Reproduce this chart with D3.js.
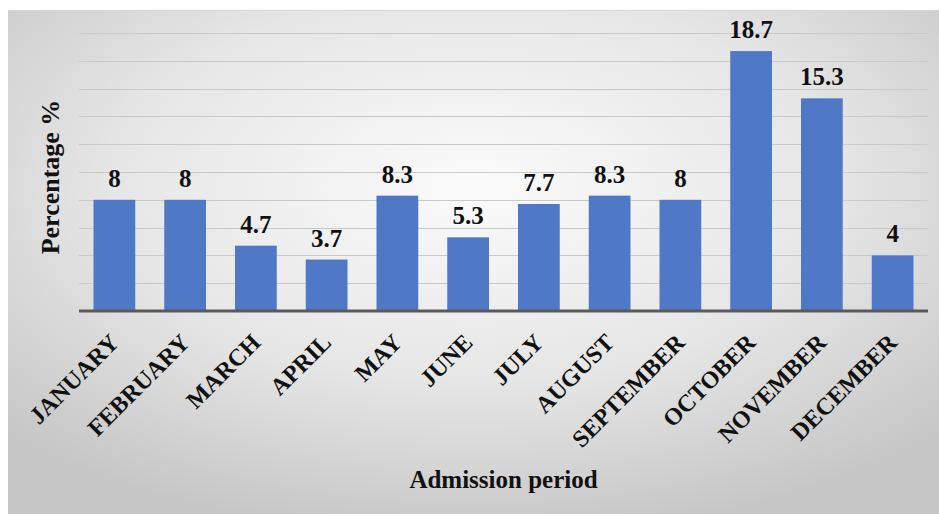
<!DOCTYPE html>
<html>
<head>
<meta charset="utf-8">
<script src="https://cdn.jsdelivr.net/npm/d3@7"></script>
<style>
	html, body { margin: 0; padding: 0; background: #ffffff; }
	svg { display: block; }
</style>
</head>
<body>
<svg id="chart" width="939" height="514"></svg>
<script>
// data
const months = ["JANUARY", "FEBRUARY", "MARCH", "APRIL", "MAY", "JUNE",
	"JULY", "AUGUST", "SEPTEMBER", "OCTOBER", "NOVEMBER", "DECEMBER"];
const percents = [8, 8, 4.7, 3.7, 8.3, 5.3, 7.7, 8.3, 8, 18.7, 15.3, 4];
const gridTicks = [2, 4, 6, 8, 10, 12, 14, 16, 18, 20];

const svg = d3.select('#chart');
const W = 939, H = 514;

// plot box ("top" is taken by window.top)
const plotL = 79, plotR = 928;
const plotT = 33, plotB = 311;

// gray background with lighter middle
const defs = svg.append('defs');
const grad = defs.append('radialGradient')
	.attr('id', 'bg')
	.attr('cx', '50%').attr('cy', '35%')
	.attr('r', '70%');
grad.append('stop').attr('offset', '0%').attr('stop-color', '#fbfbfb');
grad.append('stop').attr('offset', '55%').attr('stop-color', '#e6e6e6');
grad.append('stop').attr('offset', '100%').attr('stop-color', '#c6c6c6');

svg.append('rect')
	.attr('x', 8).attr('y', 10)
	.attr('width', W - 8).attr('height', H - 10)
	.attr('fill', 'url(#bg)');
svg.append('line')
	.attr('x1', 8).attr('x2', W)
	.attr('y1', 10.5).attr('y2', 10.5)
	.attr('stroke', '#d6d6d6');

const x = d3.scaleBand().domain(months).range([plotL, plotR]).paddingInner(0.41).paddingOuter(0.205);
const y = d3.scaleLinear().domain([0, 20]).range([plotB, plotT]);

// gridlines
svg.append('g')
	.selectAll('line')
	.data(gridTicks)
	.join('line')
	.attr('x1', plotL).attr('x2', plotR)
	.attr('y1', d => Math.round(y(d)) + 0.5)
	.attr('y2', d => Math.round(y(d)) + 0.5)
	.attr('stroke', '#c9c9c9')
	.attr('stroke-width', 1);

// bars
svg.append('g')
	.selectAll('rect')
	.data(percents)
	.join('rect')
	.attr('x', (d, i) => x(months[i]))
	.attr('y', d => y(d))
	.attr('width', x.bandwidth())
	.attr('height', d => y(0) - y(d))
	.attr('fill', '#4f79c6');

// baseline
svg.append('line')
	.attr('x1', plotL).attr('x2', plotR)
	.attr('y1', plotB).attr('y2', plotB)
	.attr('stroke', '#5a5a5a')
	.attr('stroke-width', 3);

const serif = '"Liberation Serif", "Times New Roman", serif';

// value labels
svg.append('g')
	.selectAll('text')
	.data(percents)
	.join('text')
	.attr('x', (d, i) => x(months[i]) + x.bandwidth() / 2)
	.attr('y', d => y(d) - 13)
	.attr('text-anchor', 'middle')
	.attr('font-family', serif)
	.attr('font-weight', 'bold')
	.attr('font-size', 25)
	.attr('fill', '#111')
	.text(d => d);

// month labels, slanted
svg.append('g')
	.selectAll('text')
	.data(months)
	.join('text')
	.attr('transform', d => 'translate(' + (x(d) + x.bandwidth() / 2 + 6) + ',344) rotate(-45)')
	.attr('text-anchor', 'end')
	.attr('font-family', serif)
	.attr('font-weight', 'bold')
	.attr('font-size', 24)
	.attr('fill', '#111')
	.text(d => d);

// axis titles
svg.append('text')
	.attr('x', (plotL + plotR) / 2)
	.attr('y', 488)
	.attr('text-anchor', 'middle')
	.attr('font-family', serif)
	.attr('font-weight', 'bold')
	.attr('font-size', 25)
	.attr('fill', '#111')
	.text('Admission period');

svg.append('text')
	.attr('transform', 'translate(59,' + ((plotT + plotB) / 2 + 5) + ') rotate(-90)')
	.attr('text-anchor', 'middle')
	.attr('font-family', serif)
	.attr('font-weight', 'bold')
	.attr('font-size', 26)
	.attr('fill', '#111')
	.text('Percentage %');
</script>
</body>
</html>
